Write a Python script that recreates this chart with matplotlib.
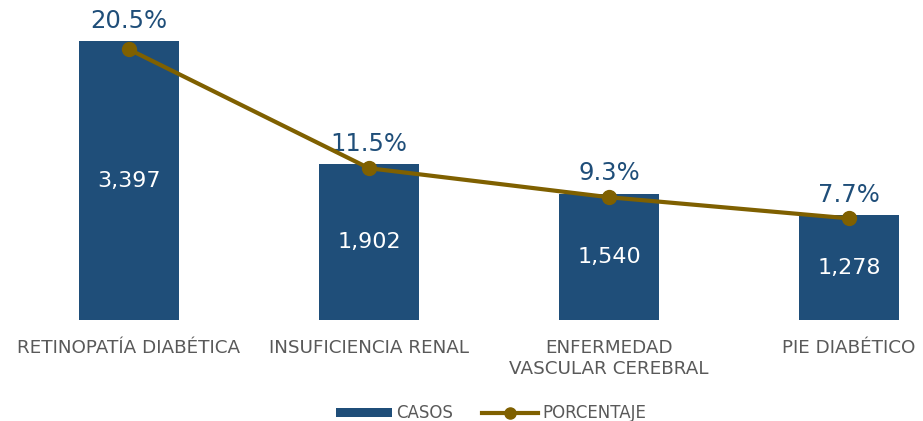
import numpy as np
import matplotlib.pyplot as plt
from matplotlib.patches import Patch
from matplotlib.lines import Line2D

plt.rcParams['font.family'] = ['DejaVu Sans']

categorias = ["RETINOPATÍA DIABÉTICA", "INSUFICIENCIA RENAL",
              "ENFERMEDAD\nVASCULAR CEREBRAL", "PIE DIABÉTICO"]
casos = [3397, 1902, 1540, 1278]
porcentaje = [20.5, 11.5, 9.3, 7.7]

azul = "#1F4E79"
oro = "#7F6000"

fig = plt.figure(figsize=(9.23, 4.21), dpi=100)
# axes spans the full width; bottom at the bar baseline
ax = fig.add_axes([0, (421 - 320) / 421, 1, 310 / 421])
ax2 = ax.twinx()

x = np.arange(len(categorias))
ax.bar(x, casos, width=100 / 240, color=azul, zorder=2)
ax.set_xlim(-129 / 240, -129 / 240 + 923 / 240)
ax.set_ylim(0, 310 / 0.0821)

ax2.plot(x, porcentaje, color=oro, lw=3, marker='o', ms=10, zorder=3)
ax2.set_ylim(0, 310 / 13.2)

for a in (ax, ax2):
    a.set_yticks([])
    for s in a.spines.values():
        s.set_visible(False)

ax.set_xticks(x)
ax.set_xticklabels(categorias, fontsize=13.2, color="#595959", linespacing=1.2)
ax.tick_params(axis='x', length=0, pad=14)

# valores dentro de las barras
for xi, c in zip(x, casos):
    ax.text(xi, c / 2, f"{c:,}", ha='center', va='center', color='white',
            fontsize=16, zorder=4)

# porcentajes encima de las barras
for xi, c, p in zip(x, casos, porcentaje):
    ax.annotate(f"{p}%", (xi, c), xytext=(0, 6), textcoords='offset points',
                ha='center', va='bottom', color=azul, fontsize=17.5)

handles = [Patch(facecolor=azul, label="CASOS"),
           Line2D([], [], color=oro, lw=3, marker='o', ms=8, label="PORCENTAJE")]
fig.legend(handles=handles, loc='center', bbox_to_anchor=(491 / 923, 1 - 413 / 421),
           ncol=2, frameon=False, fontsize=12, labelcolor="#595959",
           handlelength=3.4, handleheight=0.45, columnspacing=1.7, handletextpad=0.25)

fig.savefig("out.png", dpi=100)
